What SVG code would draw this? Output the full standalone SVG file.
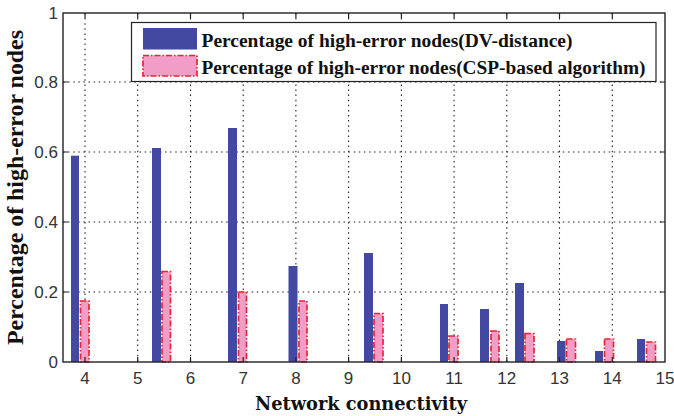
<svg xmlns="http://www.w3.org/2000/svg" width="674" height="416" viewBox="0 0 674 416">
  <defs>
    <style>
      .grid { stroke: #222; stroke-width: 1.1; stroke-dasharray: 1.5 3.6; fill: none; }
      .tick { stroke: #222; stroke-width: 1.2; }
      .frame { fill: none; stroke: #222; stroke-width: 1.4; }
      .dv { fill: #4349a3; }
      .csp { fill: #f29dc8; stroke: #e8262e; stroke-width: 1.7; stroke-dasharray: 6 2 1.5 2; }
      .num { font-family: "Liberation Sans", Arial, sans-serif; font-size: 17px; fill: #333; }
      .lbl { font-family: "Liberation Serif", "Times New Roman", serif; font-weight: bold; fill: #111; }
      .xlbl { font-family: "DejaVu Serif", "Liberation Serif", serif; font-weight: bold; fill: #111; }
    </style>
  </defs>

  <rect x="0" y="0" width="674" height="416" fill="#ffffff"/>

  <!-- dotted grid -->
  <g id="grid">
    <line class="grid" x1="85" y1="13" x2="85" y2="362"/>
    <line class="grid" x1="137.7" y1="13" x2="137.7" y2="362"/>
    <line class="grid" x1="190.5" y1="13" x2="190.5" y2="362"/>
    <line class="grid" x1="243.2" y1="13" x2="243.2" y2="362"/>
    <line class="grid" x1="295.9" y1="13" x2="295.9" y2="362"/>
    <line class="grid" x1="348.6" y1="13" x2="348.6" y2="362"/>
    <line class="grid" x1="401.4" y1="13" x2="401.4" y2="362"/>
    <line class="grid" x1="454.1" y1="13" x2="454.1" y2="362"/>
    <line class="grid" x1="506.8" y1="13" x2="506.8" y2="362"/>
    <line class="grid" x1="559.5" y1="13" x2="559.5" y2="362"/>
    <line class="grid" x1="612.3" y1="13" x2="612.3" y2="362"/>
    <line class="grid" x1="63" y1="292" x2="665" y2="292"/>
    <line class="grid" x1="63" y1="222" x2="665" y2="222"/>
    <line class="grid" x1="63" y1="152" x2="665" y2="152"/>
    <line class="grid" x1="63" y1="82" x2="665" y2="82"/>
  </g>

  <!-- bars: DV-distance (blue) and CSP-based algorithm (pink) -->
  <g id="bars-dv">
    <rect class="dv" x="71" y="155.7" width="8" height="206.3"/>
    <rect class="dv" x="152" y="148" width="9" height="214"/>
    <rect class="dv" x="228" y="128" width="9" height="234"/>
    <rect class="dv" x="288.5" y="266" width="9" height="96"/>
    <rect class="dv" x="364" y="253" width="9" height="109"/>
    <rect class="dv" x="440" y="304" width="8" height="58"/>
    <rect class="dv" x="480" y="309" width="9" height="53"/>
    <rect class="dv" x="515" y="283" width="9" height="79"/>
    <rect class="dv" x="557" y="341" width="8.5" height="21"/>
    <rect class="dv" x="595" y="351" width="8" height="11"/>
    <rect class="dv" x="637" y="339" width="8" height="23"/>
  </g>
  <g id="bars-csp">
    <rect class="csp" x="80.5" y="301" width="8.5" height="61"/>
    <rect class="csp" x="162" y="271.5" width="8.5" height="90.5"/>
    <rect class="csp" x="238.5" y="292" width="8" height="70"/>
    <rect class="csp" x="299" y="301" width="8" height="61"/>
    <rect class="csp" x="374" y="313.5" width="9" height="48.5"/>
    <rect class="csp" x="449" y="336" width="9" height="26"/>
    <rect class="csp" x="491" y="331" width="8" height="31"/>
    <rect class="csp" x="525" y="333.5" width="9" height="28.5"/>
    <rect class="csp" x="566.5" y="339" width="9" height="23"/>
    <rect class="csp" x="604.5" y="339" width="9" height="23"/>
    <rect class="csp" x="646.5" y="342" width="9" height="20"/>
  </g>

  <!-- axes frame and ticks -->
  <g id="axes">
    <rect class="frame" x="63" y="13" width="602" height="349"/>
    <path class="tick" d="M85 362v-5M137.7 362v-5M190.5 362v-5M243.2 362v-5M295.9 362v-5M348.6 362v-5M401.4 362v-5M454.1 362v-5M506.8 362v-5M559.5 362v-5M612.3 362v-5
                          M85 13v5M137.7 13v5M190.5 13v5M243.2 13v5M295.9 13v5M348.6 13v5M401.4 13v5M454.1 13v5M506.8 13v5M559.5 13v5M612.3 13v5
                          M63 292h5M63 222h5M63 152h5M63 82h5M665 292h-5M665 222h-5M665 152h-5M665 82h-5"/>
  </g>

  <!-- tick labels -->
  <g id="y-ticks" class="num" text-anchor="end">
    <text x="58" y="368">0</text>
    <text x="58" y="298">0.2</text>
    <text x="58" y="228">0.4</text>
    <text x="58" y="158">0.6</text>
    <text x="58" y="88">0.8</text>
    <text x="58" y="19">1</text>
  </g>
  <g id="x-ticks" class="num" text-anchor="middle">
    <text x="85" y="384">4</text>
    <text x="137.7" y="384">5</text>
    <text x="190.5" y="384">6</text>
    <text x="243.2" y="384">7</text>
    <text x="295.9" y="384">8</text>
    <text x="348.6" y="384">9</text>
    <text x="401.4" y="384">10</text>
    <text x="454.1" y="384">11</text>
    <text x="506.8" y="384">12</text>
    <text x="559.5" y="384">13</text>
    <text x="612.3" y="384">14</text>
    <text x="665" y="384">15</text>
  </g>

  <!-- axis titles -->
  <text id="x-title" class="xlbl" x="255" y="410" font-size="19" textLength="212" lengthAdjust="spacingAndGlyphs">Network connectivity</text>
  <text id="y-title" class="lbl" transform="translate(23,345) rotate(-90)" font-size="23" textLength="315" lengthAdjust="spacingAndGlyphs">Percentage of high-error nodes</text>

  <!-- legend -->
  <g id="legend">
    <rect x="131.5" y="22.5" width="524.5" height="59" fill="#ffffff" stroke="#222" stroke-width="1.2"/>
    <rect class="dv" x="143" y="28" width="54" height="21.5"/>
    <rect class="csp" x="143" y="55.5" width="54" height="20.5"/>
    <text class="lbl" x="201.5" y="46.5" font-size="19.3" textLength="371" lengthAdjust="spacingAndGlyphs">Percentage of high-error nodes(DV-distance)</text>
    <text class="lbl" x="201.5" y="74" font-size="19.3" textLength="444" lengthAdjust="spacingAndGlyphs">Percentage of high-error nodes(CSP-based algorithm)</text>
  </g>
</svg>
